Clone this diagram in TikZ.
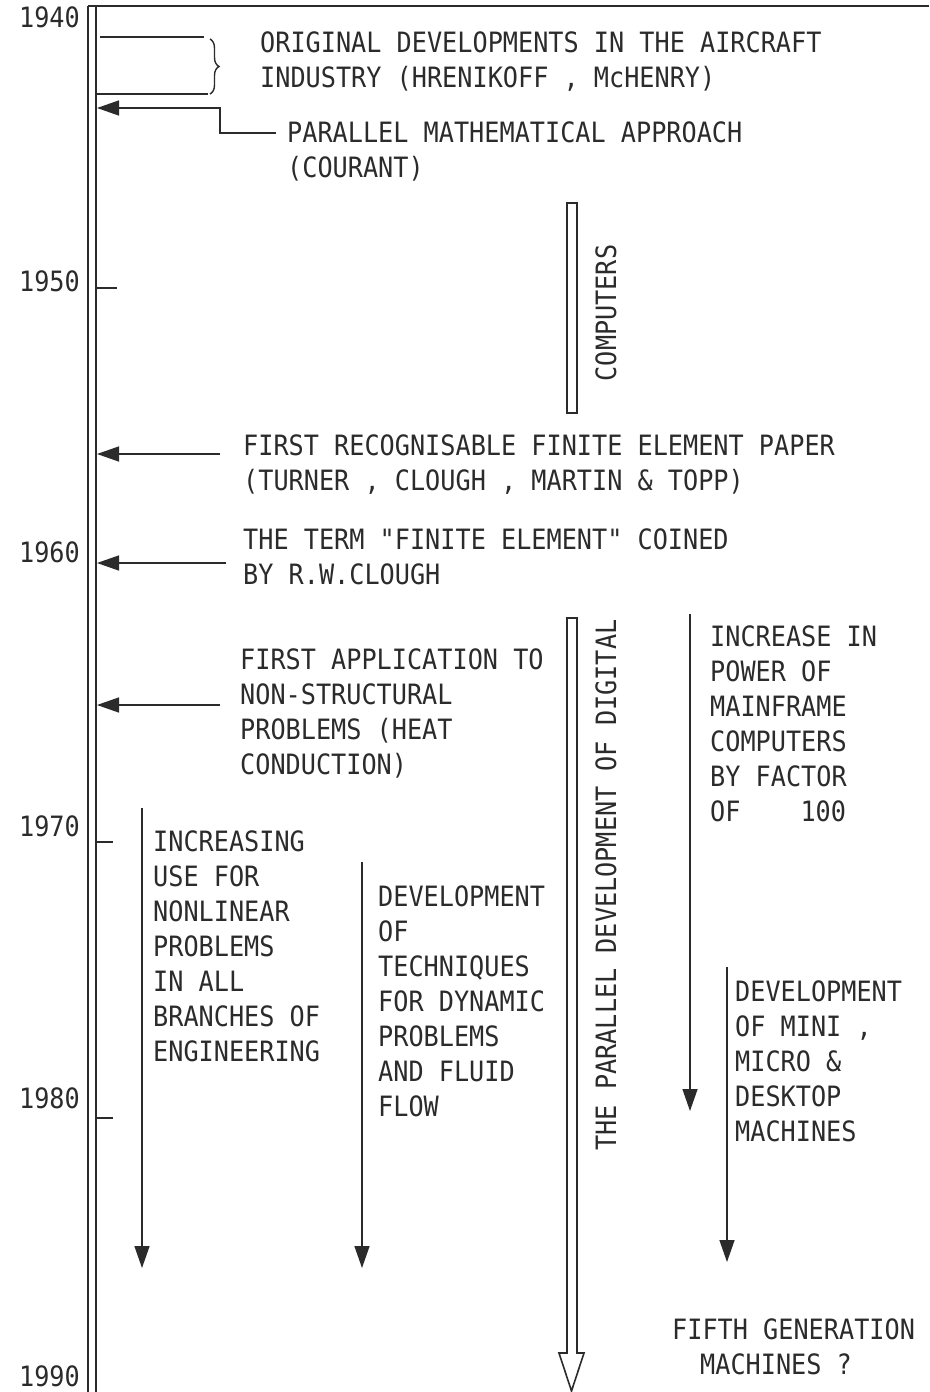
\documentclass[tikz,border=0pt]{standalone}
\usepackage{fontspec}
\newfontfamily\plotfont{DejaVu Sans Mono}[FakeStretch=0.9]
\usetikzlibrary{arrows.meta,decorations.pathreplacing}
\definecolor{ink}{HTML}{2B2B2B}
\begin{document}
\begin{tikzpicture}[x=1pt,y=-1pt,
  font=\plotfont\fontsize{28}{35}\selectfont,
  lbl/.style={anchor=north west, inner sep=0pt, align=left, text=ink},
  yr/.style={anchor=east, inner sep=0pt, text=ink},
  vtxt/.style={inner sep=0pt, rotate=90, text=ink},
  arr/.style={draw=ink, line width=1.4pt, -{Triangle[length=22pt,width=15pt]}},
  axisline/.style={draw=ink, line width=2pt},
  tickline/.style={draw=ink, line width=1.4pt},
  bar/.style={draw=ink, line width=1.6pt, fill=white}]
\useasboundingbox (0,0) rectangle (929,1392);
\fill[white] (0,0) rectangle (929,1392);

% axis
\coordinate (axtopL) at (88,6);
\coordinate (axtopR) at (96,6);
\coordinate (axbotL) at (88,1392);
\coordinate (axbotR) at (96,1392);
\coordinate (topend) at (929,6);
\draw[axisline] (axbotL) -- (axtopL);
\draw[axisline] (axbotR) -- (axtopR);
\draw[draw=ink, line width=1.2pt] (axtopL) -- (topend);

% years
\node[yr] (y1940) at (80,17) {1940};
\node[yr] (y1950) at (80,281) {1950};
\node[yr] (y1960) at (80,552) {1960};
\node[yr] (y1970) at (80,826) {1970};
\node[yr] (y1980) at (80,1098) {1980};
\node[yr] (y1990) at (80,1376) {1990};

% ticks
\coordinate (t50a) at (96,288);  \coordinate (t50b) at (117,288);
\coordinate (t70a) at (96,842);  \coordinate (t70b) at (113,842);
\coordinate (t80a) at (96,1118); \coordinate (t80b) at (113,1118);
\draw[tickline] (t50a) -- (t50b);
\draw[tickline] (t70a) -- (t70b);
\draw[tickline] (t80a) -- (t80b);

% original developments bracket
\coordinate (b1a) at (100,37);  \coordinate (b1b) at (204,37);
\coordinate (b2a) at (96,94);   \coordinate (b2b) at (208,94);
\coordinate (brT) at (210,39);  \coordinate (brB) at (210,94);
\draw[tickline] (b1a) -- (b1b);
\draw[tickline] (b2a) -- (b2b);
\draw[tickline, decorate, decoration={brace, amplitude=9pt}] (brT) -- (brB);
\node[lbl] (orig) at (260,32) {ORIGINAL DEVELOPMENTS IN THE AIRCRAFT\\INDUSTRY (HRENIKOFF , McHENRY)};

% parallel mathematical approach
\node[lbl] (par) at (287,122) {PARALLEL MATHEMATICAL APPROACH\\(COURANT)};
\coordinate (parL) at (276,133);
\coordinate (parK1) at (220,133);
\coordinate (parK2) at (220,108);
\coordinate (ax1) at (97,108);
\draw[arr] (parL) -- (parK1) -- (parK2) -- (ax1);

% computers bar
\draw[bar] (567,203) rectangle (577,413);
\node[vtxt] (comp) at (606,313) {COMPUTERS};

% first recognisable paper
\node[lbl] (frp) at (243,435) {FIRST RECOGNISABLE FINITE ELEMENT PAPER\\(TURNER , CLOUGH , MARTIN \& TOPP)};
\coordinate (frpL) at (220,454);
\coordinate (ax2) at (97,454);
\draw[arr] (frpL) -- (ax2);

% term coined
\node[lbl] (term) at (243,529) {THE TERM "FINITE ELEMENT" COINED\\BY R.W.CLOUGH};
\coordinate (termL) at (226,563);
\coordinate (ax3) at (97,563);
\draw[arr] (termL) -- (ax3);

% first application
\node[lbl] (app) at (240,649) {FIRST APPLICATION TO\\NON-STRUCTURAL\\PROBLEMS (HEAT\\CONDUCTION)};
\coordinate (appL) at (220,705);
\coordinate (ax4) at (97,705);
\draw[arr] (appL) -- (ax4);

% parallel development hollow arrow
\draw[bar, line join=miter] (567,618) -- (567,1353) -- (559,1353) -- (571.5,1391) -- (584,1353) -- (577,1353) -- (577,618) -- cycle;
\node[vtxt] (pdd) at (606,885) {THE PARALLEL DEVELOPMENT OF DIGITAL};

% increase in power
\coordinate (incT) at (690,614);
\coordinate (incB) at (690,1111);
\draw[arr] (incT) -- (incB);
\node[lbl] (incr) at (710,626) {INCREASE IN\\POWER OF\\MAINFRAME\\COMPUTERS\\BY FACTOR\\OF\hspace{60pt}100};

% mini micro desktop
\coordinate (minT) at (727,967);
\coordinate (minB) at (727,1262);
\draw[arr] (minT) -- (minB);
\node[lbl] (mini) at (735,981) {DEVELOPMENT\\OF MINI ,\\MICRO \&\\DESKTOP\\MACHINES};

% increasing use nonlinear
\coordinate (nlT) at (142,808);
\coordinate (nlB) at (142,1268);
\draw[arr] (nlT) -- (nlB);
\node[lbl] (nonlin) at (153,831) {INCREASING\\USE FOR\\NONLINEAR\\PROBLEMS\\IN ALL\\BRANCHES OF\\ENGINEERING};

% dynamic techniques
\coordinate (dyT) at (362,862);
\coordinate (dyB) at (362,1268);
\draw[arr] (dyT) -- (dyB);
\node[lbl] (dyn) at (378,886) {DEVELOPMENT\\OF\\TECHNIQUES\\FOR DYNAMIC\\PROBLEMS\\AND FLUID\\FLOW};

% fifth generation
\node[lbl] (fifth) at (672,1319) {FIFTH GENERATION\\\hspace*{28pt}MACHINES ?};
\end{tikzpicture}
\end{document}
